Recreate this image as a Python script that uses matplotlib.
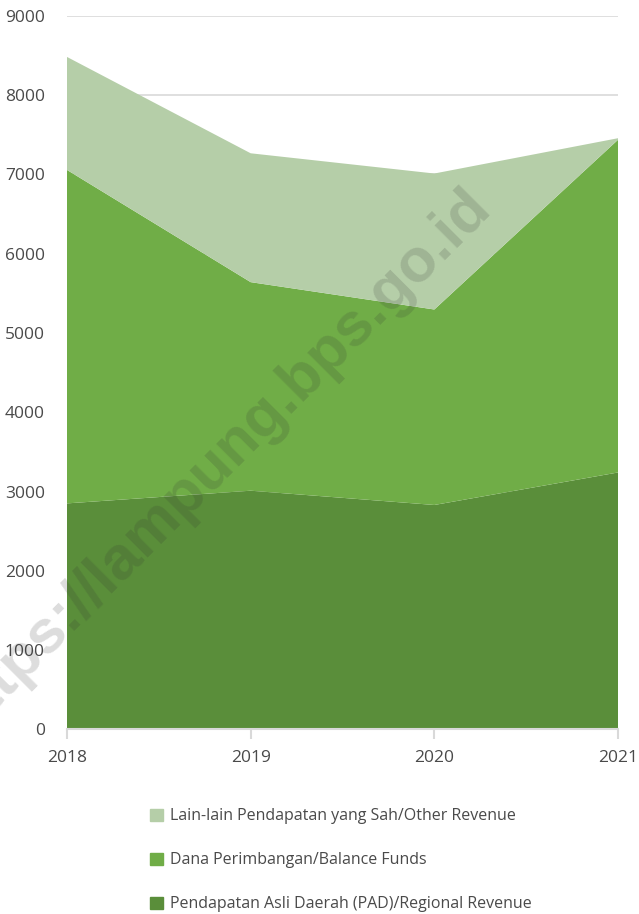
import matplotlib
matplotlib.use('Agg')
import matplotlib.pyplot as plt
from matplotlib.patches import Patch

years = [2018, 2019, 2020, 2021]
pad = [2850, 3010, 2830, 3240]
dana = [4205, 2630, 2465, 4195]
other = [1425, 1625, 1715, 20]

labels = ['Pendapatan Asli Daerah (PAD)/Regional Revenue',
          'Dana Perimbangan/Balance Funds',
          'Lain-lain Pendapatan yang Sah/Other Revenue']
colors = ['#5a8e3a', '#70ad47', '#b5cea8']

plt.rcParams['font.family'] = ['Open Sans', 'DejaVu Sans']
txt = '#4a4a4a'

fig = plt.figure(figsize=(6.39, 9.14), dpi=100)
ax = fig.add_axes([67/639, 1-729.4/914, (618-67)/639, (729.4-15.7)/914])

ax.stackplot(years, pad, dana, other, colors=colors, zorder=2, linewidth=0)
ax.set_xlim(2018, 2021)
ax.set_ylim(0, 9000)
ax.set_yticks(range(0, 9001, 1000))
ax.set_xticks(years)
ax.grid(axis='y', color='#d9d9d9', lw=1.2, zorder=0)
ax.set_axisbelow(True)
for s in ['top', 'right', 'left']:
    ax.spines[s].set_visible(False)
ax.spines['bottom'].set_color('#d9d9d9')
ax.spines['bottom'].set_linewidth(1.5)
ax.spines['bottom'].set_zorder(3)
ax.tick_params(axis='y', length=0, pad=16, labelsize=12.5, labelcolor=txt)
ax.tick_params(axis='x', length=7, width=1.5, color='#d9d9d9', pad=8,
               labelsize=12.5, labelcolor=txt)

handles = [Patch(color=c) for c in colors[::-1]]
fig.legend(handles, labels[::-1], loc='upper left',
           bbox_to_anchor=(136/639, 1-794/914), frameon=False,
           fontsize=11.5, labelcolor=txt, handlelength=0.8, handleheight=0.8,
           handletextpad=0.4, labelspacing=1.75)

fig.text(218/639, 1-462/914, 'https://lampung.bps.go.id', rotation=45,
         ha='center', va='center', fontsize=44, fontweight='bold',
         family='Liberation Sans', color='#313131', alpha=0.17, zorder=10)

fig.savefig('out.png', dpi=100)
